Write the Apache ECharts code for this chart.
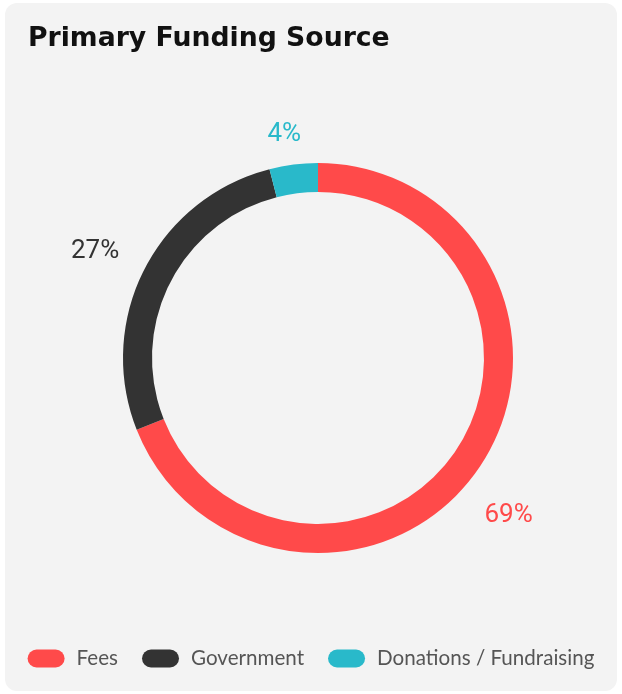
<!DOCTYPE html>
<html>
<head>
<meta charset="utf-8">
<script src="https://cdn.jsdelivr.net/npm/echarts@6/dist/echarts.min.js"></script>
<style>
  html, body { margin: 0; padding: 0; background: #ffffff; }
  #card { position: absolute; left: 5px; top: 3px; width: 612px; height: 688px; background: #f3f3f3; border-radius: 12px; }
  #chart { position: absolute; left: 0; top: 0; width: 622px; height: 694px; }
</style>
</head>
<body>
<div id="card"></div>
<div id="chart"></div>
<script>
// ---- data ----
const categories = ['Fees', 'Government', 'Donations / Fundraising'];
const values = [69, 27, 4];
const labelTexts = ['69%', '27%', '4%'];
const titleText = 'Primary Funding Source';

// ---- style ----
const colors = ['#ff4a4a', '#333333', '#29b9ca'];
const center = [318, 358];
const radii = [166, 195];
const labelRadius = [246, 248, 228];   // distance of label centre from pie centre
const labelAngleShift = [-5, 1, 1.3];  // degrees, relative to slice middle
const labelBaselineFix = 2;            // px, font metric compensation

const total = values.reduce((a, b) => a + b, 0);
const midAngles = [];
let acc = 90;
values.forEach(v => {
  const sweep = v / total * 360;
  midAngles.push(acc - sweep / 2);
  acc -= sweep;
});

const chart = echarts.init(document.getElementById('chart'), null, { renderer: 'canvas' });
chart.setOption({
  backgroundColor: 'transparent',
  animation: false,
  title: {
    text: titleText,
    left: 23,
    top: 21,
    textStyle: { fontFamily: 'DejaVu Sans', fontWeight: 'bold', fontSize: 26.7, color: '#111111' }
  },
  legend: {
    bottom: 20,
    left: 'center',
    itemWidth: 37,
    itemHeight: 18,
    itemGap: 24,
    icon: 'path://M9,0 H28 A9,9 0 0 1 28,18 H9 A9,9 0 0 1 9,0 Z',
    data: categories,
    textStyle: { fontFamily: 'Lato', fontSize: 20.6, color: '#555555', padding: [0, 0, 0, 7] }
  },
  series: [{
    type: 'pie',
    center: center,
    radius: radii,
    startAngle: 90,
    clockwise: true,
    silent: true,
    avoidLabelOverlap: false,
    color: colors,
    data: categories.map((c, i) => ({
      name: c,
      value: values[i],
      label: { color: colors[i] }
    })),
    label: {
      show: true,
      position: 'outside',
      formatter: p => labelTexts[p.dataIndex],
      fontFamily: 'Roboto',
      fontSize: 26
    },
    labelLine: { show: false },
    labelLayout: function (p) {
      const i = p.dataIndex;
      const a = (midAngles[i] + labelAngleShift[i]) * Math.PI / 180;
      const r = labelRadius[i];
      return {
        x: center[0] + r * Math.cos(a),
        y: center[1] - r * Math.sin(a) + labelBaselineFix,
        align: 'center',
        verticalAlign: 'middle'
      };
    }
  }]
});
</script>
</body>
</html>
